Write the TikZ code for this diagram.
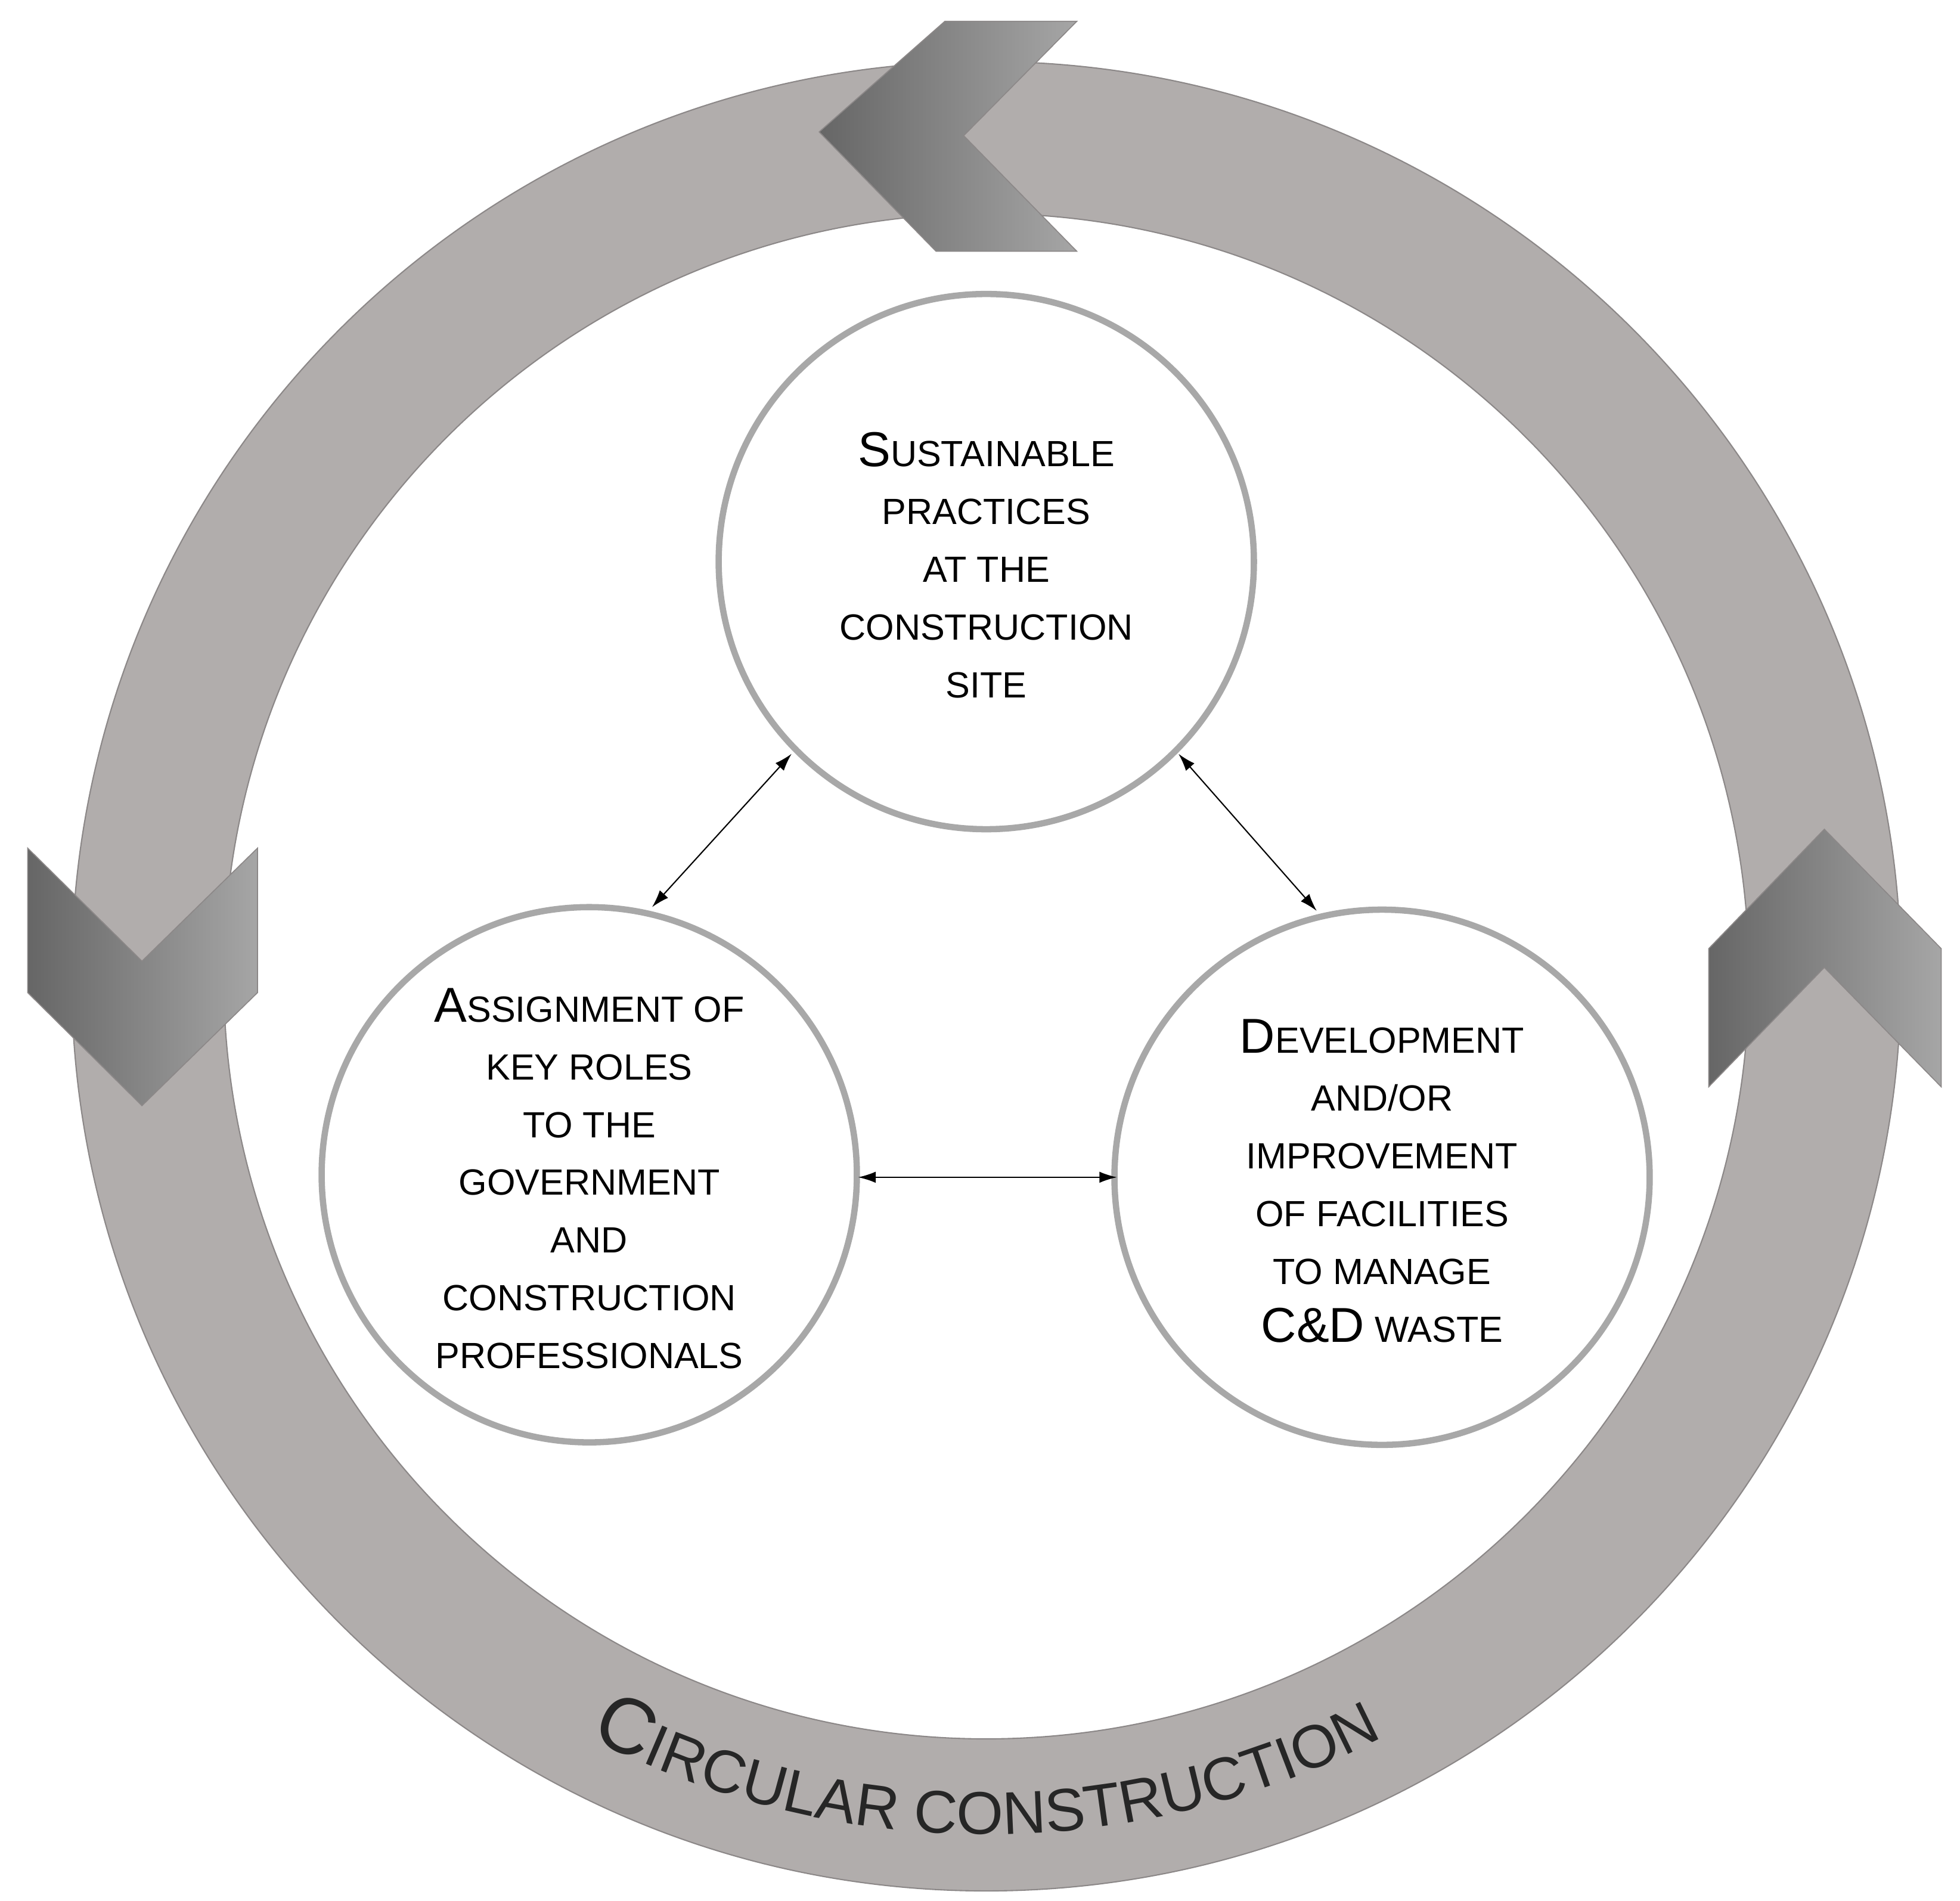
\documentclass[tikz,border=0pt]{standalone}
\usepackage{fontspec}
\setmainfont{Liberation Sans}
\usetikzlibrary{decorations.text,arrows.meta}
\definecolor{ringc}{HTML}{B1ADAC}
\definecolor{ringd}{HTML}{8C8888}
\definecolor{circc}{HTML}{A8A8A8}
\newcommand\bigL[1]{{\fontsize{39}{46}\selectfont #1}}
\tikzset{
  bub/.style={circle,draw=circc,line width=5pt,fill=white,minimum size=426pt,inner sep=0pt},
  btxt/.style={align=center,font=\fontsize{29}{46}\selectfont},
  chev/.style={draw=ringd,line width=0.8pt,left color=black!60,right color=black!35},
  link/.style={{Latex[length=14pt,width=9pt]}-{Latex[length=14pt,width=9pt]},line width=1pt}
}
\begin{document}
\begin{tikzpicture}[x=1pt,y=1pt]
\useasboundingbox (0,0) rectangle (1560,1513);
\fill[white] (0,0) rectangle (1560,1513);
\begin{scope}[yshift=1513pt,yscale=-1]
\draw[ringd,line width=1pt,fill=ringc,even odd rule] (785,777) circle[radius=728] (785,777) circle[radius=607];
\draw[chev] (652,105)--(752,17)--(857,17)--(767,108)--(857,200)--(745,200)--cycle;
\draw[chev] (22,675)--(113,765)--(205,675)--(205,790)--(113,880)--(22,790)--cycle;
\draw[chev] (1360,755)--(1452,660)--(1545,755)--(1545,865)--(1452,770)--(1360,865)--cycle;
\node[bub] (top) at (785,447) {};
\node[bub] (lft) at (469,935) {};
\node[bub] (rgt) at (1100,937) {};
\node[btxt] at (785,450) {\bigL{S}USTAINABLE\\PRACTICES\\AT THE\\CONSTRUCTION\\SITE};
\node[btxt] at (469,938) {\bigL{A}SSIGNMENT OF\\KEY ROLES\\TO THE\\GOVERNMENT\\AND\\CONSTRUCTION\\PROFESSIONALS};
\node[btxt] at (1100,940) {\bigL{D}EVELOPMENT\\AND/OR\\IMPROVEMENT\\OF FACILITIES\\TO MANAGE\\\bigL{C\&D} WASTE};
\coordinate (a1) at (630,600); \coordinate (a2) at (519,722);
\coordinate (b1) at (938,600); \coordinate (b2) at (1048,725);
\coordinate (c1) at (683,937); \coordinate (c2) at (889,937);
\draw[link] (a1)--(a2);
\draw[link] (b1)--(b2);
\draw[link] (c1)--(c2);
\end{scope}
\path[decorate,decoration={text along path,text align=center,
  text={|\fontsize{63}{63}\selectfont\color{black!85}|C|\fontsize{48}{48}\selectfont\color{black!85}|IRCULAR CONSTRUCTION}}]
  (785,736) ++(232:683) arc[start angle=232,end angle=308,radius=683];
\end{tikzpicture}
\end{document}
